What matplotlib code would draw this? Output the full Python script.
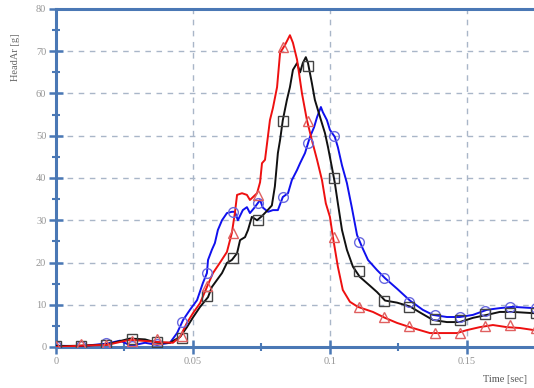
import matplotlib
matplotlib.use("Agg")
import matplotlib.pyplot as plt
from matplotlib.ticker import MultipleLocator, FuncFormatter

## Data ##
red_t = [0.0, 0.0088, 0.0186, 0.0270, 0.0369, 0.0427, 0.0453, 0.0478, 0.0500, 0.0526,
         0.0551, 0.0573, 0.0599, 0.0624, 0.0642, 0.0653, 0.0661, 0.0679, 0.0697, 0.0708,
         0.0734, 0.0745, 0.0752, 0.0763, 0.0781, 0.0792, 0.0807, 0.0818, 0.0836, 0.0854,
         0.0865, 0.0880, 0.0898, 0.0916, 0.0934, 0.0953, 0.0971, 0.0985, 0.1000, 0.1011,
         0.1029, 0.1047, 0.1073, 0.1102, 0.1157, 0.1201, 0.1245, 0.1292, 0.1328, 0.1365,
         0.1412, 0.1464, 0.1500, 0.1547, 0.1595, 0.1646, 0.1693, 0.1745]
red_g = [0.0, 0.3, 0.5, 1.7, 1.2, 1.0, 2.4, 5.7, 8.0, 10.4,
         14.2, 17.5, 20.0, 22.5, 27.0, 31.7, 36.0, 36.4, 36.0, 34.8,
         36.4, 39.0, 43.5, 44.3, 53.7, 56.6, 61.5, 69.6, 71.5, 73.8,
         72.0, 68.0, 60.0, 53.7, 49.0, 44.3, 39.5, 34.0, 30.8, 26.0,
         19.0, 13.5, 10.7, 9.5, 8.3, 6.9, 5.7, 4.7, 4.0, 3.3,
         3.3, 3.3, 4.0, 4.7, 5.2, 4.7, 4.5, 4.0]

black_t = [0.0, 0.0088, 0.0186, 0.0270, 0.0325, 0.0369, 0.0416, 0.0453, 0.0478, 0.0500,
           0.0526, 0.0555, 0.0569, 0.0588, 0.0606, 0.0624, 0.0642, 0.0661, 0.0672, 0.0690,
           0.0701, 0.0715, 0.0734, 0.0752, 0.0770, 0.0788, 0.0799, 0.0810, 0.0818, 0.0828,
           0.0843, 0.0854, 0.0865, 0.0880, 0.0891, 0.0901, 0.0912, 0.0920, 0.0934, 0.0945,
           0.0964, 0.0982, 0.0993, 0.1007, 0.1018, 0.1029, 0.1044, 0.1062, 0.1084, 0.1109,
           0.1146, 0.1172, 0.1201, 0.1245, 0.1292, 0.1328, 0.1376, 0.1427, 0.1474, 0.1522,
           0.1573, 0.1620, 0.1668, 0.1745]
black_g = [0.2, 0.3, 0.6, 2.0, 1.8, 1.0, 1.0, 2.4, 4.7, 7.0,
           9.5, 11.8, 14.2, 15.9, 17.5, 19.9, 20.6, 22.2, 25.3, 26.0,
           27.7, 30.8, 30.0, 31.0, 32.2, 33.5, 38.0, 45.9, 49.0, 53.7,
           58.5, 61.5, 65.6, 67.2, 65.0, 67.2, 68.6, 67.2, 62.5, 58.5,
           54.4, 50.6, 47.3, 42.6, 38.8, 34.0, 27.7, 23.0, 19.0, 16.6,
           14.5, 13.0, 11.0, 10.5, 9.6, 8.2, 6.4, 5.9, 5.9, 6.9,
           7.6, 8.3, 8.3, 8.0]

blue_t = [0.0, 0.0088, 0.0186, 0.0234, 0.0274, 0.0325, 0.0369, 0.0416, 0.0442, 0.0464,
          0.0489, 0.0515, 0.0536, 0.0551, 0.0555, 0.0569, 0.0580, 0.0591, 0.0606, 0.0624,
          0.0642, 0.0653, 0.0664, 0.0682, 0.0697, 0.0708, 0.0726, 0.0745, 0.0755, 0.0774,
          0.0792, 0.0810, 0.0828, 0.0847, 0.0861, 0.0880, 0.0891, 0.0909, 0.0927, 0.0942,
          0.0953, 0.0967, 0.0974, 0.0989, 0.1000, 0.1018, 0.1029, 0.1044, 0.1062, 0.1080,
          0.1099, 0.1117, 0.1139, 0.1172, 0.1201, 0.1245, 0.1292, 0.1339, 0.1376, 0.1427,
          0.1474, 0.1522, 0.1573, 0.1620, 0.1668, 0.1745]
blue_g = [0.3, 0.2, 0.8, 1.5, 0.3, 1.0, 0.5, 1.0, 3.3, 6.4,
          8.8, 11.1, 15.1, 17.5, 20.6, 23.0, 24.6, 27.7, 30.0, 31.7,
          32.0, 32.0, 30.0, 32.4, 33.1, 31.7, 33.1, 34.8, 33.0, 32.0,
          32.4, 32.4, 35.5, 36.4, 39.5, 41.9, 43.5, 45.9, 49.7, 52.0,
          54.4, 56.8, 55.6, 53.7, 51.4, 49.7, 47.3, 43.0, 38.8, 33.0,
          26.5, 23.7, 20.6, 18.2, 16.3, 13.8, 11.0, 8.8, 7.6, 7.1,
          7.1, 7.6, 8.8, 9.2, 9.5, 9.2]

## Marker positions ##
mark_t = [0.0, 0.0092, 0.0184, 0.0276, 0.0369, 0.0461, 0.0553, 0.0645, 0.0737, 0.0829,
          0.0921, 0.1014, 0.1106, 0.1198, 0.1290, 0.1382, 0.1474, 0.1566, 0.1659, 0.1751]
red_mark = [0.3, 0.7, 0.5, 1.5, 2.0, 2.5, 14.5, 27.0, 36.0, 71.0,
            53.5, 26.0, 9.5, 7.2, 5.0, 3.3, 3.3, 5.0, 5.3, 4.5]
black_mark = [0.2, 0.3, 0.5, 1.8, 1.2, 2.2, 12.0, 21.0, 30.0, 53.5,
              66.5, 40.0, 18.0, 11.0, 9.5, 6.7, 6.4, 7.8, 8.0, 8.0]
blue_mark = [0.3, 0.3, 1.0, 0.2, 0.6, 5.8, 17.5, 32.0, 34.0, 35.5,
             48.3, 50.0, 24.8, 16.3, 10.7, 7.5, 7.1, 8.5, 9.5, 9.2]

axis_blue = '#4a78b5'
label_grey = '#959595'

plt.rcParams['font.family'] = ['Liberation Serif', 'DejaVu Serif']

fig = plt.figure(figsize=(5.34, 3.88), dpi=100)
ax = fig.add_axes([56/534.0, 41/388.0, 1.0 - 56/534.0, 338/388.0])

## Lines ##
ax.plot(blue_t, blue_g, color='#1010ee', lw=1.4, zorder=3)
ax.plot(black_t, black_g, color='#111111', lw=1.4, zorder=4)
ax.plot(red_t, red_g, color='#ee1010', lw=1.4, zorder=5)

## Markers ##
ax.plot(mark_t, blue_mark, ls='none', marker='o', ms=7, mfc='none',
        mec='#6a6ae0', mew=1.0, zorder=6)
ax.plot(mark_t, black_mark, ls='none', marker='s', ms=6.5, mfc='none',
        mec='#444444', mew=1.0, zorder=6)
ax.plot(mark_t, red_mark, ls='none', marker='^', ms=7.5, mfc='none',
        mec='#e06060', mew=1.0, zorder=6)

ax.set_xlim(0, 0.1745)
ax.set_ylim(0, 80)

ax.xaxis.set_major_locator(MultipleLocator(0.05))
ax.xaxis.set_minor_locator(MultipleLocator(0.025))
ax.yaxis.set_major_locator(MultipleLocator(10))
ax.yaxis.set_minor_locator(MultipleLocator(5))
ax.xaxis.set_major_formatter(FuncFormatter(lambda v, p: '0' if v == 0 else ('%g' % round(v, 3))))

ax.grid(True, which='major', ls=(0, (4, 4)), color='#a9b6c8', lw=1.0)

for side in ['left', 'bottom', 'top']:
    ax.spines[side].set_color(axis_blue)
    ax.spines[side].set_linewidth(2.2)
ax.spines['right'].set_visible(False)

ax.tick_params(which='major', direction='inout', length=10, width=1.8,
               color=axis_blue, labelsize=7.5, labelcolor=label_grey, pad=2)
ax.tick_params(which='minor', direction='inout', length=6, width=1.5,
               color=axis_blue)
ax.tick_params(top=False, right=False, which='both')

fig.text(15/534.0, 1 - 57/388.0, 'HeadAr [g]', rotation=90, fontsize=7.5,
         color='#666666', ha='center', va='center')
fig.text(505/534.0, 1 - 380/388.0, 'Time [sec]', fontsize=7.5,
         color='#555555', ha='center', va='center')

fig.savefig('out.png', dpi=100)
